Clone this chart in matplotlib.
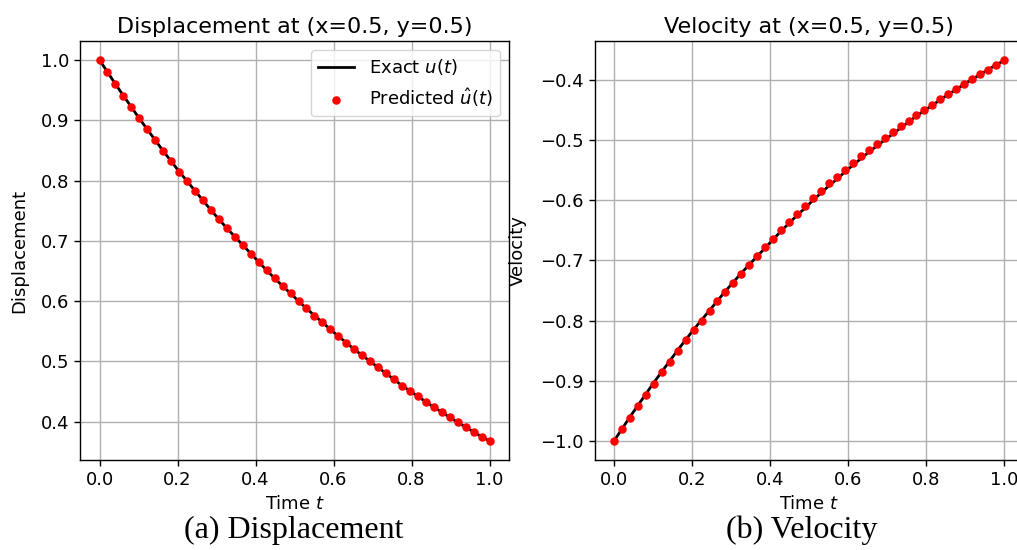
import matplotlib
matplotlib.use("Agg")
import matplotlib.pyplot as plt

# time samples (50 points on [0, 1])
t = [0.0, 0.0204, 0.0408, 0.0612, 0.0816, 0.1020, 0.1224, 0.1429, 0.1633, 0.1837,
     0.2041, 0.2245, 0.2449, 0.2653, 0.2857, 0.3061, 0.3265, 0.3469, 0.3673, 0.3878,
     0.4082, 0.4286, 0.4490, 0.4694, 0.4898, 0.5102, 0.5306, 0.5510, 0.5714, 0.5918,
     0.6122, 0.6327, 0.6531, 0.6735, 0.6939, 0.7143, 0.7347, 0.7551, 0.7755, 0.7959,
     0.8163, 0.8367, 0.8571, 0.8776, 0.8980, 0.9184, 0.9388, 0.9592, 0.9796, 1.0]

# displacement at (x=0.5, y=0.5)
u_exact = [1.000, 0.980, 0.960, 0.941, 0.922, 0.903, 0.885, 0.867, 0.849, 0.832,
           0.815, 0.799, 0.783, 0.767, 0.751, 0.736, 0.721, 0.707, 0.693, 0.679,
           0.665, 0.651, 0.638, 0.625, 0.613, 0.600, 0.588, 0.576, 0.565, 0.553,
           0.542, 0.531, 0.520, 0.510, 0.500, 0.490, 0.480, 0.470, 0.460, 0.451,
           0.442, 0.433, 0.424, 0.416, 0.407, 0.399, 0.391, 0.383, 0.375, 0.368]
u_pred = list(u_exact)

# velocity at (x=0.5, y=0.5)
v_exact = [-1.000, -0.980, -0.960, -0.941, -0.922, -0.903, -0.885, -0.867, -0.849, -0.832,
           -0.815, -0.799, -0.783, -0.767, -0.751, -0.736, -0.721, -0.707, -0.693, -0.679,
           -0.665, -0.651, -0.638, -0.625, -0.613, -0.600, -0.588, -0.576, -0.565, -0.553,
           -0.542, -0.531, -0.520, -0.510, -0.500, -0.490, -0.480, -0.470, -0.460, -0.451,
           -0.442, -0.433, -0.424, -0.416, -0.407, -0.399, -0.391, -0.383, -0.375, -0.368]
v_pred = [-1.000, -0.980, -0.961, -0.942, -0.923, -0.905, -0.886, -0.868, -0.850, -0.833,
          -0.816, -0.800, -0.784, -0.768, -0.752, -0.737, -0.722, -0.707, -0.692, -0.678,
          -0.664, -0.650, -0.636, -0.623, -0.610, -0.597, -0.584, -0.572, -0.561, -0.549,
          -0.538, -0.527, -0.517, -0.507, -0.497, -0.487, -0.477, -0.468, -0.459, -0.450,
          -0.441, -0.432, -0.424, -0.415, -0.407, -0.399, -0.391, -0.383, -0.375, -0.367]

plt.rcParams.update({
    "font.size": 13,
    "axes.titlesize": 16,
    "axes.linewidth": 1.0,
    "xtick.major.width": 1.0,
    "ytick.major.width": 1.0,
    "xtick.major.size": 4.5,
    "ytick.major.size": 4.5,
})

fig = plt.figure(figsize=(10.17, 5.5), dpi=100)
ax1 = fig.add_axes([0.0787, 0.1636, 0.4218, 0.7619])
ax2 = fig.add_axes([0.5846, 0.1636, 0.4218, 0.7619])

ax1.plot(t, u_exact, color="k", lw=2.0, label=r"Exact $u(t)$", zorder=2)
ax1.scatter(t, u_pred, color="red", s=26, label=r"Predicted $\hat{u}(t)$", zorder=3)
ax1.set_title("Displacement at (x=0.5, y=0.5)")
ax1.set_xlabel("Time $t$")
ax1.set_ylabel("Displacement", labelpad=9)
ax1.grid(True, color="#b0b0b0", lw=1.0)
ax1.legend(loc="upper right")

ax2.plot(t, v_exact, color="k", lw=2.0, zorder=2)
ax2.scatter(t, v_pred, color="red", s=26, zorder=3)
ax2.set_title("Velocity at (x=0.5, y=0.5)")
ax2.set_xlabel("Time $t$")
ax2.set_ylabel("Velocity", labelpad=9)
ax2.grid(True, color="#b0b0b0", lw=1.0)

for ax in (ax1, ax2):
    ax.set_xticks([0.0, 0.2, 0.4, 0.6, 0.8, 1.0])
    ax.set_xlim(-0.05, 1.05)

fig.text(0.289, 0.022, "(a) Displacement", family="Liberation Serif",
         fontsize=23, ha="center", va="baseline")
fig.text(0.788, 0.022, "(b) Velocity", family="Liberation Serif",
         fontsize=23, ha="center", va="baseline")

fig.savefig("out.png", dpi=100)
